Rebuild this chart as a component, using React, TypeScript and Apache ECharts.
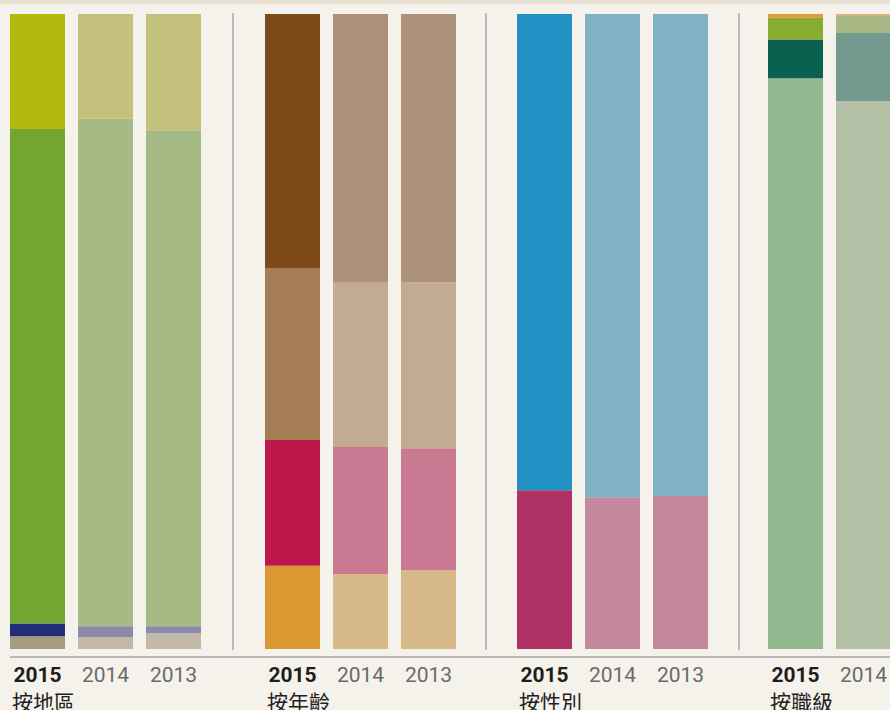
import React, { useEffect, useRef } from "react";
import * as echarts from "echarts";

// Categories / labels
const years = ["2015", "2014", "2013"];
const rankYears = ["2015", "2014"];
const groupNames = ["按地區", "按年齡", "按性別", "按職級"];

// Values (% of each bar), listed bottom to top
const regionTaupe = [2.0, 1.9, 2.5];
const regionNavy = [2.0, 1.7, 1.1];
const regionGreen = [77.9, 79.9, 78.1];
const regionYellow = [18.1, 16.5, 18.3];

const ageOrange = [13.1, 11.8, 12.4];
const ageCrimson = [19.8, 20.0, 19.2];
const ageTan = [27.1, 26.0, 26.1];
const ageBrown = [40.0, 42.2, 42.3];

const genderMagenta = [25.0, 23.9, 24.1];
const genderBlue = [75.0, 76.1, 75.9];

const rankLight = [89.9, 86.3];
const rankTeal = [6.1, 10.7];
const rankGreen = [3.4, 2.7];
const rankOrange = [0.6, 0.3];

const NUM_FONT = "Roboto, 'Liberation Sans', sans-serif";
const CJK_FONT = "'Noto Sans CJK TC', 'Noto Sans CJK SC', sans-serif";

const App = () => {
  const ref = useRef<HTMLDivElement>(null);

  useEffect(() => {
    document.body.style.margin = "0";
    const chart = echarts.init(ref.current!, null, { renderer: "svg" });

    const groups = [
      {
        name: groupNames[0],
        cats: years,
        segs: [
          { data: regionTaupe, colors: ["#a79b81", "#c2b8a7", "#c2b8a7"] },
          { data: regionNavy, colors: ["#222d79", "#8a89a9", "#8a89a9"] },
          { data: regionGreen, colors: ["#72a631", "#a6ba85", "#a6ba85"] },
          { data: regionYellow, colors: ["#b4b910", "#c3c17b", "#c3c17b"] },
        ],
      },
      {
        name: groupNames[1],
        cats: years,
        segs: [
          { data: ageOrange, colors: ["#dc9833", "#d8b989", "#d8b989"] },
          { data: ageCrimson, colors: ["#bd184b", "#c97a92", "#c97a92"] },
          { data: ageTan, colors: ["#a67c54", "#c1ab93", "#c1ab93"] },
          { data: ageBrown, colors: ["#7f4a19", "#ae9179", "#ae9179"] },
        ],
      },
      {
        name: groupNames[2],
        cats: years,
        segs: [
          { data: genderMagenta, colors: ["#af3165", "#c3889b", "#c3889b"] },
          { data: genderBlue, colors: ["#2190c2", "#80b2c5", "#80b2c5"] },
        ],
      },
      {
        name: groupNames[3],
        cats: rankYears,
        segs: [
          { data: rankLight, colors: ["#94b88f", "#b5c1a7"] },
          { data: rankTeal, colors: ["#0b6150", "#73998e"] },
          { data: rankGreen, colors: ["#89ab2f", "#aab886"] },
          { data: rankOrange, colors: ["#e19b30", "#d9b47c"] },
        ],
      },
    ];

    const BAND = 68;
    const gridLefts = [3.5, 258.5, 510.5, 761.5];

    const grid = groups.map((g, i) => ({
      left: gridLefts[i],
      top: 14,
      width: BAND * g.cats.length,
      height: 635,
      outerBoundsMode: "none",
      containLabel: false,
    }));

    const xAxis: any[] = [];
    groups.forEach((g, i) => {
      // year labels
      xAxis.push({
        type: "category",
        gridIndex: i,
        data: g.cats,
        axisLine: { show: false },
        axisTick: { show: false },
        axisLabel: {
          interval: 0,
          margin: 15,
          formatter: (v: string, idx: number) => (idx === 0 ? `{b|${v}}` : `{r|${v}}`),
          rich: {
            b: { fontFamily: NUM_FONT, fontSize: 21, fontWeight: "bold", color: "#1e1e1e", lineHeight: 21 },
            r: { fontFamily: NUM_FONT, fontSize: 21, color: "#6a6a6a", lineHeight: 21 },
          },
        },
      });
      // group name, on an offset companion axis
      xAxis.push({
        type: "category",
        gridIndex: i,
        data: g.cats,
        position: "bottom",
        offset: 41,
        axisLine: { show: false },
        axisTick: { show: false },
        axisLabel: { show: false },
        name: g.name,
        nameLocation: "start",
        nameGap: -8.5,
        nameMoveOverlap: false,
        nameTextStyle: {
          align: "left",
          verticalAlign: "top",
          fontFamily: CJK_FONT,
          fontSize: 21,
          lineHeight: 21,
          color: "#222",
        },
      });
    });

    const yAxis = groups.map((_, i) => ({
      type: "value",
      gridIndex: i,
      min: 0,
      max: 100,
      show: false,
    }));

    const series: any[] = [];
    groups.forEach((g, gi) => {
      g.segs.forEach((s, si) => {
        series.push({
          type: "bar",
          name: `${g.name}-${si}`,
          xAxisIndex: gi * 2,
          yAxisIndex: gi,
          stack: `g${gi}`,
          barWidth: 55,
          data: s.data.map((v, k) => ({ value: v, itemStyle: { color: s.colors[k] } })),
        });
      });
    });

    const sepXs = [233, 486, 739];

    chart.setOption({
      animation: false,
      backgroundColor: "#f5f2ec",
      grid,
      xAxis,
      yAxis,
      series,
      graphic: [
        { type: "rect", shape: { x: 0, y: 0, width: 960, height: 4 }, style: { fill: "#e9e1d3" } },
        {
          type: "line",
          shape: { x1: 10, y1: 657, x2: 960, y2: 657 },
          style: { stroke: "#bcb9b4", lineWidth: 2 },
        },
        ...sepXs.map((x) => ({
          type: "line",
          shape: { x1: x, y1: 13, x2: x, y2: 650 },
          style: { stroke: "#bdbab5", lineWidth: 2 },
        })),
      ],
    });

    return () => chart.dispose();
  }, []);

  return (
    <div style={{ width: 890, height: 710, overflow: "hidden", background: "#f5f2ec" }}>
      <div ref={ref} style={{ width: 960, height: 710 }} />
    </div>
  );
};

export default App;
